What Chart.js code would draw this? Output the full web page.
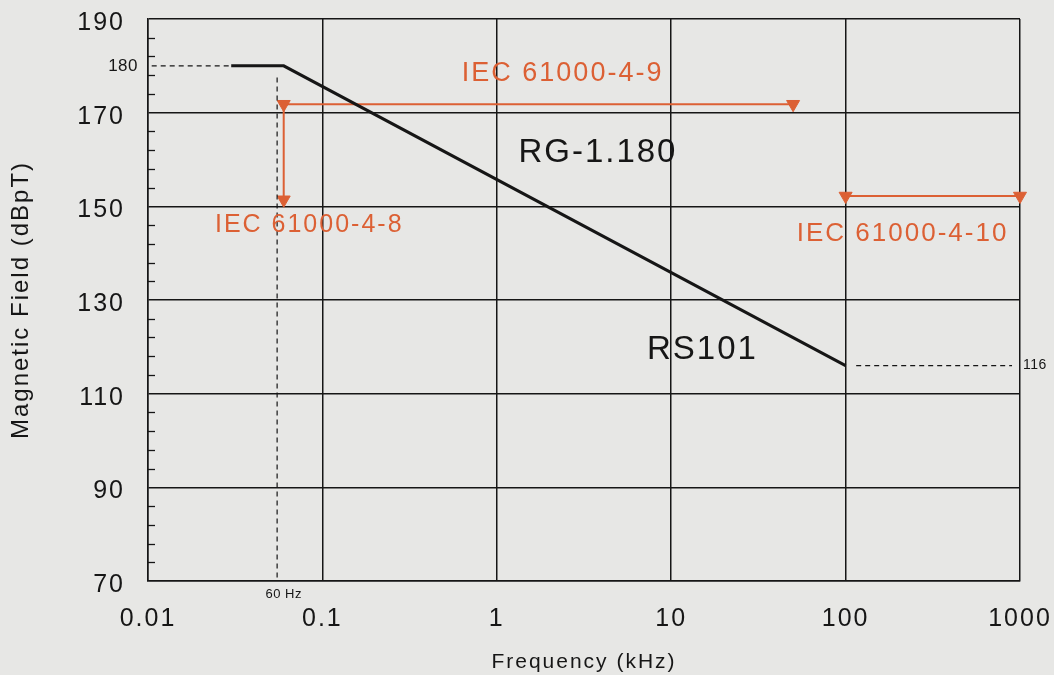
<!DOCTYPE html>
<html>
<head>
<meta charset="utf-8">
<script src="https://cdn.jsdelivr.net/npm/chart.js@4/dist/chart.umd.min.js"></script>
<style>
  html, body { margin: 0; padding: 0; background: #e7e7e5; }
  #wrap { width: 1054px; height: 675px; }
</style>
</head>
<body>
<div id="wrap"><canvas id="chart" width="1054" height="675"></canvas></div>
<script>
const INK = "#161616";
const ORANGE = "#dc6034";
const FONT = "'Liberation Sans', Arial, Helvetica, sans-serif";

// axis ticks
const FREQ_TICKS = [0.01, 0.1, 1, 10, 100, 1000];
const FIELD_MINOR_TICKS = [74, 78, 82, 86, 94, 98, 102, 106, 114, 118, 122, 126,
  134, 138, 142, 146, 154, 158, 162, 166, 174, 178, 182, 186];

// RG-1.180 / RS101 limit curve (kHz, dBpT)
const LIMIT_FREQ = [0.03, 0.06, 100];
const LIMIT_FIELD = [180, 180, 116];

// IEC test ranges
const IEC9_FREQ = [0.06, 50];
const IEC9_FIELD = [171.8, 171.8];
const IEC8_FREQ = [0.06, 0.06];
const IEC8_FIELD = [171.8, 151.4];
const IEC10_FREQ = [100, 1000];
const IEC10_FIELD = [152.2, 152.2];

// dashed reference guides
const REF180_FREQ = [0.0105, 0.03];
const REF180_FIELD = [180, 180];
const REF60_FREQ = [0.055, 0.055];
const REF60_FIELD = [177.5, 70];
const REF116_FREQ = [115, 900];
const REF116_FIELD = [116, 116];

// text notes anchored in data space
const NOTES = [
  { text: "IEC 61000-4-9", freq: 0.63, field: 178.3, size: 27, kind: "iec" },
  { text: "IEC 61000-4-8", freq: 0.0242, field: 146.0, size: 25, kind: "iec" },
  { text: "IEC 61000-4-10", freq: 52.5, field: 144.2, size: 26, kind: "iec" },
  { text: "RG-1.180", freq: 1.33, field: 161.4, size: 33, kind: "big" },
  { text: "RS101", freq: 7.26, field: 119.3, size: 33, kind: "big" },
];

const pts = (xs, ys) => xs.map((x, i) => ({ x: x, y: ys[i] }));

function guide(xs, ys) {
  return {
    data: pts(xs, ys),
    borderColor: INK,
    borderWidth: 1.2,
    borderDash: [5, 4],
    pointRadius: 0,
    fill: false,
  };
}

function iecLine(xs, ys, radii) {
  return {
    data: pts(xs, ys),
    borderColor: ORANGE,
    borderWidth: 2,
    pointStyle: "triangle",
    pointRotation: 180,
    pointRadius: radii,
    pointBackgroundColor: ORANGE,
    pointBorderColor: ORANGE,
    pointBorderWidth: 1,
    fill: false,
    clip: false,
  };
}

const notesPlugin = {
  id: "notes",
  beforeDraw(chart) {
    chart.ctx.letterSpacing = "2px";
  },
  afterDraw(chart) {
    const ctx = chart.ctx;
    const xs = chart.scales.x;
    const ys = chart.scales.y;
    ctx.save();

    // minor ticks on the left axis
    ctx.strokeStyle = INK;
    ctx.lineWidth = 1.3;
    FIELD_MINOR_TICKS.forEach((v) => {
      const py = Math.round(ys.getPixelForValue(v)) + 0.5;
      ctx.beginPath();
      ctx.moveTo(xs.left, py);
      ctx.lineTo(xs.left + 7, py);
      ctx.stroke();
    });

    ctx.letterSpacing = "2px";
    ctx.textBaseline = "middle";
    ctx.textAlign = "left";
    NOTES.forEach((n) => {
      ctx.fillStyle = n.kind === "iec" ? ORANGE : INK;
      ctx.font = n.size + "px " + FONT;
      ctx.fillText(n.text, xs.getPixelForValue(n.freq), ys.getPixelForValue(n.field));
    });

    ctx.fillStyle = INK;
    ctx.letterSpacing = "0.5px";
    ctx.font = "17px " + FONT;
    ctx.textAlign = "right";
    ctx.fillText("180", xs.left - 10, ys.getPixelForValue(180));

    ctx.font = "14px " + FONT;
    ctx.textAlign = "left";
    ctx.fillText("116", xs.right + 3, ys.getPixelForValue(116));

    ctx.font = "13px " + FONT;
    ctx.textAlign = "center";
    ctx.fillText("60 Hz", xs.getPixelForValue(0.06), ys.bottom + 13);
    ctx.restore();
  },
};

new Chart(document.getElementById("chart"), {
  type: "line",
  data: {
    datasets: [
      {
        data: pts(LIMIT_FREQ, LIMIT_FIELD),
        borderColor: INK,
        borderWidth: 3,
        pointRadius: 0,
        fill: false,
      },
      guide(REF180_FREQ, REF180_FIELD),
      guide(REF60_FREQ, REF60_FIELD),
      guide(REF116_FREQ, REF116_FIELD),
      iecLine(IEC9_FREQ, IEC9_FIELD, [7.5, 7.5]),
      iecLine(IEC8_FREQ, IEC8_FIELD, [0, 7.5]),
      iecLine(IEC10_FREQ, IEC10_FIELD, [7.5, 7.5]),
    ],
  },
  options: {
    responsive: false,
    animation: false,
    layout: { padding: { left: 0, top: 19, right: 34, bottom: 0 } },
    plugins: { legend: { display: false }, tooltip: { enabled: false } },
    scales: {
      x: {
        type: "logarithmic",
        min: 0.01,
        max: 1000,
        afterBuildTicks: (scale) => { scale.ticks = FREQ_TICKS.map((v) => ({ value: v })); },
        afterFit: (scale) => {
          scale.height = 94;
          scale.paddingLeft = 0;
          scale.paddingRight = 0;
        },
        grid: { color: INK, lineWidth: 1.5, drawTicks: false },
        border: { color: INK, width: 1.5 },
        ticks: {
          color: INK,
          font: { family: FONT, size: 25 },
          padding: 23,
          maxRotation: 0,
          autoSkip: false,
          callback: (v) => String(v),
        },
        title: {
          display: true,
          text: "Frequency (kHz)",
          color: INK,
          font: { family: FONT, size: 21 },
          padding: { top: 0, bottom: 0 },
        },
      },
      y: {
        type: "linear",
        min: 70,
        max: 190,
        afterFit: (scale) => {
          scale.width = 148;
          scale.paddingTop = 0;
          scale.paddingBottom = 0;
        },
        grid: { color: INK, lineWidth: 1.5, drawTicks: false },
        border: { color: INK, width: 1.5 },
        ticks: {
          stepSize: 20,
          color: INK,
          font: { family: FONT, size: 25 },
          padding: 23,
          labelOffset: 4,
        },
        title: {
          display: true,
          text: "Magnetic Field (dBpT)",
          color: INK,
          font: { family: FONT, size: 24 },
          padding: { top: 7, bottom: 0 },
        },
      },
    },
  },
  plugins: [notesPlugin],
});
</script>
</body>
</html>
